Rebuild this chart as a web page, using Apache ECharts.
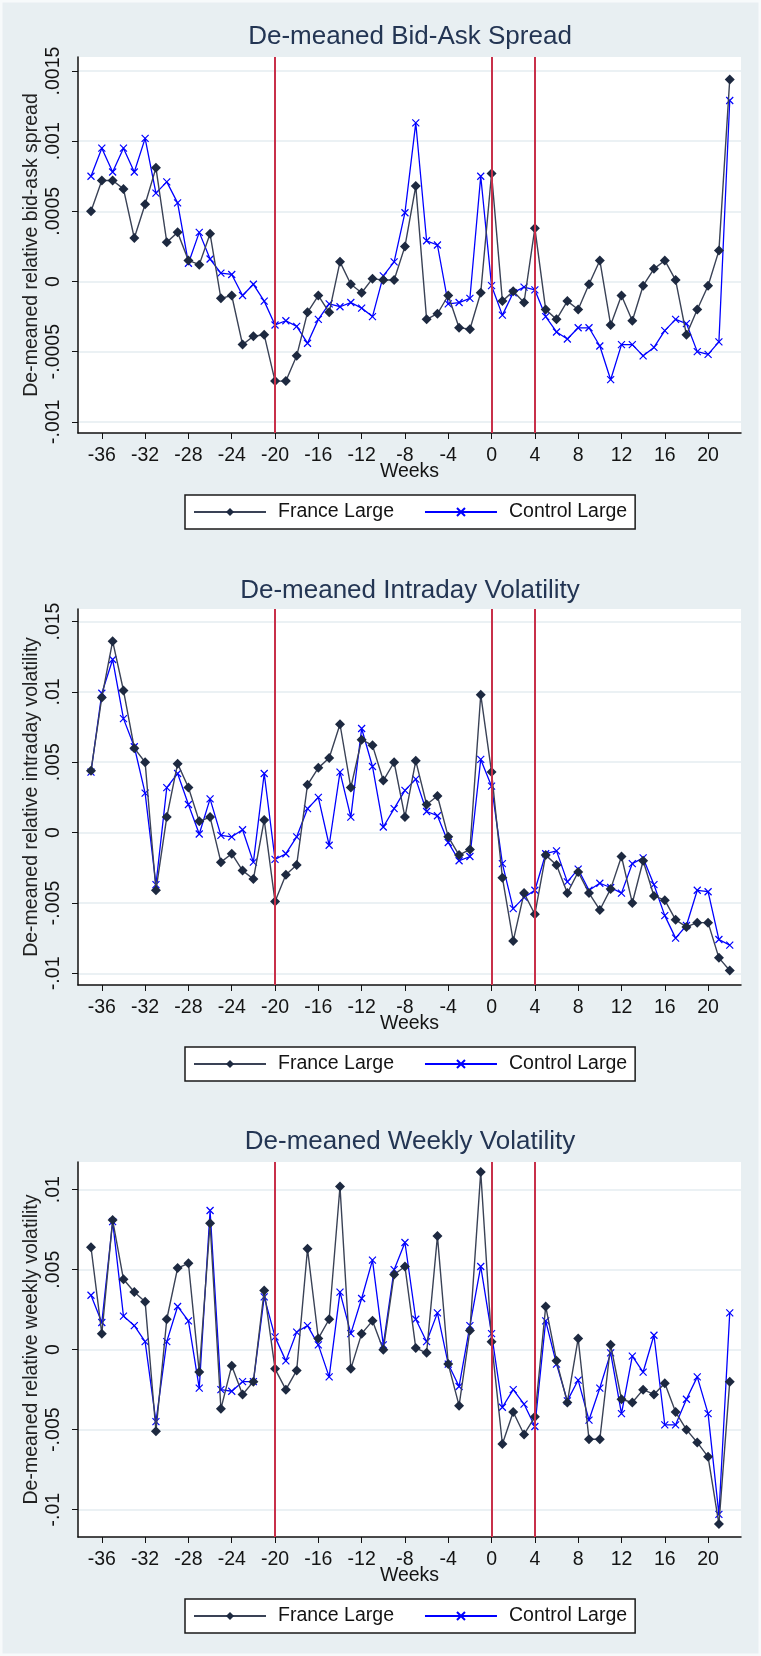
<!DOCTYPE html>
<html>
<head>
<meta charset="utf-8">
<script src="https://cdn.jsdelivr.net/npm/echarts@6/dist/echarts.min.js"></script>
<style>
  html, body { margin: 0; padding: 0; background: #ffffff; }
  #chart { width: 761px; height: 1656px; }
</style>
</head>
<body>
<div id="chart"></div>
<script>
// weeks relative to the event
var weeks = [
  -37, -36, -35, -34, -33, -32, -31, -30, -29, -28,
  -27, -26, -25, -24, -23, -22, -21, -20, -19, -18,
  -17, -16, -15, -14, -13, -12, -11, -10, -9, -8,
  -7, -6, -5, -4, -3, -2, -1, 0, 1, 2,
  3, 4, 5, 6, 7, 8, 9, 10, 11, 12,
  13, 14, 15, 16, 17, 18, 19, 20, 21, 22
];
var weekTicks = [-36, -32, -28, -24, -20, -16, -12, -8, -4, 0, 4, 8, 12, 16, 20];
var eventWeeks = [-20, 0, 4];

// De-meaned Bid-Ask Spread
var spreadFrance = [
  0.00050, 0.00072, 0.00072, 0.00066, 0.00031, 0.00055, 0.00081, 0.00028, 0.00035, 0.00015,
  0.00012, 0.00034, -0.00012, -0.00010, -0.00045, -0.00039, -0.00038, -0.00071, -0.00071, -0.00053,
  -0.00022, -0.00010, -0.00022, 0.00014, -0.00002, -0.00008, 0.00002, 0.00001, 0.00001, 0.00025,
  0.00068, -0.00027, -0.00023, -0.00010, -0.00033, -0.00034, -0.00008, 0.00077, -0.00014, -0.00007,
  -0.00015, 0.00038, -0.00020, -0.00027, -0.00014, -0.00020, -0.00002, 0.00015, -0.00031, -0.00010,
  -0.00028, -0.00003, 0.00009, 0.00015, 0.00001, -0.00038, -0.00020, -0.00003, 0.00022, 0.00144
];
var spreadControl = [
  0.00075, 0.00095, 0.00078, 0.00095, 0.00078, 0.00102, 0.00063, 0.00071, 0.00056, 0.00013,
  0.00035, 0.00016, 0.00006, 0.00005, -0.00010, -0.00002, -0.00014, -0.00031, -0.00028, -0.00032,
  -0.00044, -0.00027, -0.00016, -0.00018, -0.00015, -0.00019, -0.00025, 0.00004, 0.00014, 0.00049,
  0.00113, 0.00029, 0.00026, -0.00016, -0.00015, -0.00012, 0.00075, -0.00003, -0.00024, -0.00008,
  -0.00004, -0.00006, -0.00025, -0.00036, -0.00041, -0.00033, -0.00033, -0.00046, -0.00070, -0.00045,
  -0.00045, -0.00053, -0.00047, -0.00035, -0.00027, -0.00030, -0.00050, -0.00052, -0.00043, 0.00129
];
var spreadTicks = [-0.001, -0.0005, 0, 0.0005, 0.001, 0.0015];

// De-meaned Intraday Volatility
var intradayFrance = [
  0.0044, 0.0096, 0.0136, 0.0101, 0.0060, 0.0050, -0.0041, 0.0011, 0.0049, 0.0032,
  0.0008, 0.0011, -0.0021, -0.0015, -0.0027, -0.0033, 0.0009, -0.0049, -0.0030, -0.0023,
  0.0034, 0.0046, 0.0053, 0.0077, 0.0032, 0.0066, 0.0062, 0.0037, 0.0050, 0.0011,
  0.0051, 0.0020, 0.0026, -0.0003, -0.0016, -0.0012, 0.0098, 0.0043, -0.0032, -0.0077,
  -0.0043, -0.0058, -0.0016, -0.0023, -0.0043, -0.0028, -0.0043, -0.0055, -0.0040, -0.0017,
  -0.0050, -0.0020, -0.0045, -0.0048, -0.0062, -0.0067, -0.0064, -0.0064, -0.0089, -0.0098
];
var intradayControl = [
  0.0043, 0.0099, 0.0123, 0.0081, 0.0061, 0.0028, -0.0037, 0.0032, 0.0042, 0.0020,
  -0.0001, 0.0024, -0.0002, -0.0003, 0.0002, -0.0021, 0.0042, -0.0019, -0.0015, -0.0003,
  0.0017, 0.0025, -0.0009, 0.0043, 0.0011, 0.0074, 0.0047, 0.0004, 0.0017, 0.0030,
  0.0038, 0.0015, 0.0012, -0.0007, -0.0020, -0.0017, 0.0052, 0.0033, -0.0022, -0.0054,
  -0.0046, -0.0041, -0.0015, -0.0013, -0.0035, -0.0026, -0.0041, -0.0036, -0.0039, -0.0043,
  -0.0022, -0.0018, -0.0037, -0.0059, -0.0075, -0.0066, -0.0041, -0.0042, -0.0076, -0.0080
];
var intradayTicks = [-0.01, -0.005, 0, 0.005, 0.01, 0.015];

// De-meaned Weekly Volatility
var weeklyFrance = [
  0.0064, 0.0010, 0.0081, 0.0044, 0.0036, 0.0030, -0.0051, 0.0019, 0.0051, 0.0054,
  -0.0014, 0.0079, -0.0037, -0.0010, -0.0028, -0.0020, 0.0037, -0.0012, -0.0025, -0.0013,
  0.0063, 0.0007, 0.0019, 0.0102, -0.0012, 0.0010, 0.0018, 0.0000, 0.0047, 0.0052,
  0.0001, -0.0002, 0.0071, -0.0009, -0.0035, 0.0012, 0.0111, 0.0005, -0.0059, -0.0039,
  -0.0053, -0.0042, 0.0027, -0.0007, -0.0033, 0.0007, -0.0056, -0.0056, 0.0003, -0.0031,
  -0.0033, -0.0025, -0.0028, -0.0021, -0.0039, -0.0050, -0.0058, -0.0067, -0.0109, -0.0020
];
var weeklyControl = [
  0.0034, 0.0017, 0.0080, 0.0021, 0.0015, 0.0005, -0.0045, 0.0005, 0.0027, 0.0018,
  -0.0024, 0.0087, -0.0025, -0.0026, -0.0020, -0.0020, 0.0033, 0.0008, -0.0007, 0.0011,
  0.0015, 0.0003, -0.0017, 0.0036, 0.0010, 0.0032, 0.0056, 0.0003, 0.0050, 0.0067,
  0.0019, 0.0005, 0.0023, -0.0009, -0.0023, 0.0015, 0.0052, 0.0010, -0.0036, -0.0025,
  -0.0034, -0.0048, 0.0018, -0.0009, -0.0032, -0.0019, -0.0044, -0.0024, -0.0002, -0.0040,
  -0.0004, -0.0014, 0.0009, -0.0047, -0.0047, -0.0031, -0.0017, -0.0040, -0.0103, 0.0023
];
var weeklyTicks = [-0.01, -0.005, 0, 0.005, 0.01];

var panels = [
  { title: 'De-meaned Bid-Ask Spread', yName: 'De-meaned relative bid-ask spread',
    france: spreadFrance, control: spreadControl, ticks: spreadTicks, min: -0.00108, max: 0.0016 },
  { title: 'De-meaned Intraday Volatility', yName: 'De-meaned relative intraday volatility',
    france: intradayFrance, control: intradayControl, ticks: intradayTicks, min: -0.01083, max: 0.01589 },
  { title: 'De-meaned Weekly Volatility', yName: 'De-meaned relative weekly volatility',
    france: weeklyFrance, control: weeklyControl, ticks: weeklyTicks, min: -0.01171, max: 0.01173 }
];

// layout (px)
var gridTops = [57, 609, 1162];
var gridHeights = [376, 376, 375];
var titleTops = [24, 578, 1129];
var legendTops = [495, 1047, 1599];

var font = 'Liberation Sans, Arial, sans-serif';
var inkColor = '#141414';

function stataNum(v) {
  return String(v).replace(/^(-?)0\./, '$1.');
}
function pairs(vals) {
  return weeks.map(function (w, i) { return [w, vals[i]]; });
}

var option = {
  backgroundColor: '#e8eff2',
  animation: false,
  title: [],
  legend: [],
  grid: [],
  xAxis: [],
  yAxis: [],
  series: [],
  graphic: [{
    type: 'rect', silent: true, z: 100,
    shape: { x: 1, y: 1, width: 759, height: 1654 },
    style: { fill: 'none', stroke: '#f7fafb', lineWidth: 3 }
  }]
};

panels.forEach(function (p, k) {
  option.title.push({
    text: p.title,
    left: 410, top: titleTops[k], textAlign: 'center', padding: 0,
    textStyle: { fontFamily: font, fontSize: 26, fontWeight: 'normal', color: '#233553' }
  });
  option.legend.push({
    left: 185, top: legendTops[k],
    data: ['France Large', 'Control Large'],
    selectedMode: false,
    backgroundColor: '#ffffff',
    borderColor: '#1a1a1a', borderWidth: 1.5,
    padding: [5, 8],
    itemWidth: 72, itemHeight: 10, itemGap: 30,
    textStyle: { fontFamily: font, fontSize: 19.5, color: inkColor, padding: [0, 0, 0, 7], lineHeight: 24 }
  });
  option.grid.push({
    left: 78, right: 20, top: gridTops[k], height: gridHeights[k],
    show: true, backgroundColor: '#ffffff', borderWidth: 0
  });
  option.xAxis.push({
    type: 'value', gridIndex: k, min: -38.2, max: 23.04,
    name: 'Weeks', nameLocation: 'middle', nameGap: 29, nameMoveOverlap: false,
    nameTextStyle: { fontFamily: font, fontSize: 19.5, color: inkColor },
    axisLine: { show: true, onZero: false, lineStyle: { color: '#111', width: 1.5 } },
    axisTick: { show: true, length: 6, customValues: weekTicks, lineStyle: { color: '#111', width: 1 } },
    axisLabel: { customValues: weekTicks, margin: 13, fontFamily: font, fontSize: 19.5, color: inkColor },
    splitLine: { show: false }
  });
  option.yAxis.push({
    type: 'value', gridIndex: k, min: p.min, max: p.max,
    name: p.yName, nameLocation: 'middle', nameGap: 36, nameMoveOverlap: false,
    nameTextStyle: { fontFamily: font, fontSize: 19.5, color: '#222' },
    axisLine: { show: true, onZero: false, lineStyle: { color: '#111', width: 1.5 } },
    axisTick: { show: true, length: 6, customValues: p.ticks, lineStyle: { color: '#111', width: 1 } },
    axisLabel: { customValues: p.ticks, rotate: 90, margin: 14, fontFamily: font, fontSize: 19.5,
      color: inkColor, formatter: stataNum },
    splitLine: { show: true, lineStyle: { color: '#e4ecf0', width: 1.5 } }
  });
  option.series.push({
    name: 'France Large', type: 'line', xAxisIndex: k, yAxisIndex: k,
    data: pairs(p.france),
    symbol: 'diamond', symbolSize: 10, showAllSymbol: true,
    lineStyle: { color: '#3a4256', width: 1.4 },
    itemStyle: { color: '#1d2940' },
    emphasis: { disabled: true },
    markLine: {
      silent: true, symbol: ['none', 'none'], label: { show: false },
      lineStyle: { color: '#c8304a', width: 2, type: 'solid' },
      data: eventWeeks.map(function (w) { return { xAxis: w }; })
    },
    z: 3
  });
  option.series.push({
    name: 'Control Large', type: 'line', xAxisIndex: k, yAxisIndex: k,
    data: pairs(p.control),
    symbol: 'path://M0,0L10,10M10,0L0,10', symbolSize: 7, showAllSymbol: true,
    lineStyle: { color: '#0000ff', width: 1.3 },
    itemStyle: { color: '#0000ff', borderColor: '#0000ff', borderWidth: 1.2 },
    emphasis: { disabled: true },
    z: 2
  });
});

var chart = echarts.init(document.getElementById('chart'));
chart.setOption(option);
</script>
</body>
</html>
